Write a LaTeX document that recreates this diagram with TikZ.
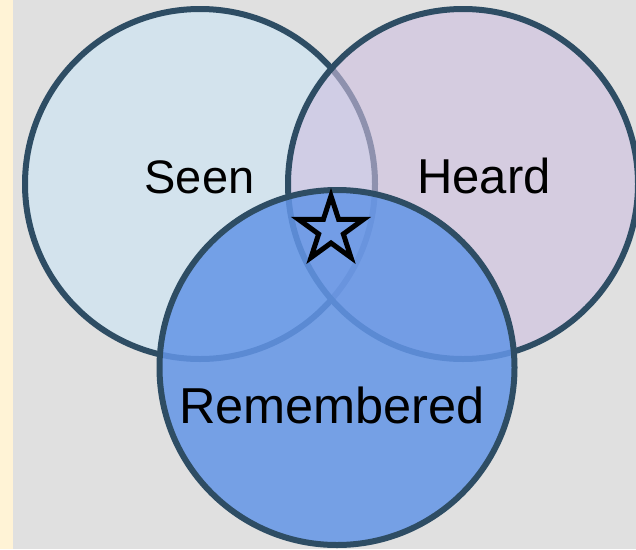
\documentclass[tikz,border=0pt]{standalone}
\usepackage{fontspec}
\setmainfont{Liberation Sans}
\usetikzlibrary{shapes.geometric}
\definecolor{bggrey}{HTML}{E0E0E0}
\definecolor{cream}{HTML}{FFF3D6}
\definecolor{edge}{HTML}{2E4D64}
\definecolor{seenfill}{HTML}{D3E3ED}
\definecolor{heardfill}{RGB}{206,191,224}
\definecolor{remfill}{RGB}{99,149,231}
\tikzset{
  venn/.style={circle, draw=edge, line width=6pt, inner sep=0pt, minimum size=#1},
  lbl/.style={anchor=base, font=\fontsize{#1}{#1}\selectfont, text=black, inner sep=0pt}
}
\begin{document}
\begin{tikzpicture}[x=1pt,y=-1pt]
\useasboundingbox (0,0) rectangle (636,549);
\fill[bggrey] (0,0) rectangle (636,549);
\fill[cream] (0,0) rectangle (13,549);
\node[venn=350pt, fill=seenfill] (seen) at (200,184) {};
\node[venn=350pt, fill=heardfill, fill opacity=0.6] (heard) at (463,184) {};
\node[venn=355pt, fill=remfill, fill opacity=0.85] (rem) at (337,367.5) {};
\node[lbl=47] (seenlbl) at (199.5,193) {Seen};
\node[lbl=49] (heardlbl) at (484,193) {Heard};
\node[lbl=50.5] (remlbl) at (332,423) {Remembered};
\node[star, star points=5, star point ratio=2.618, minimum size=68pt, inner sep=0pt, draw=black, line width=5pt] (star) at (331,230) {};
\end{tikzpicture}
\end{document}
